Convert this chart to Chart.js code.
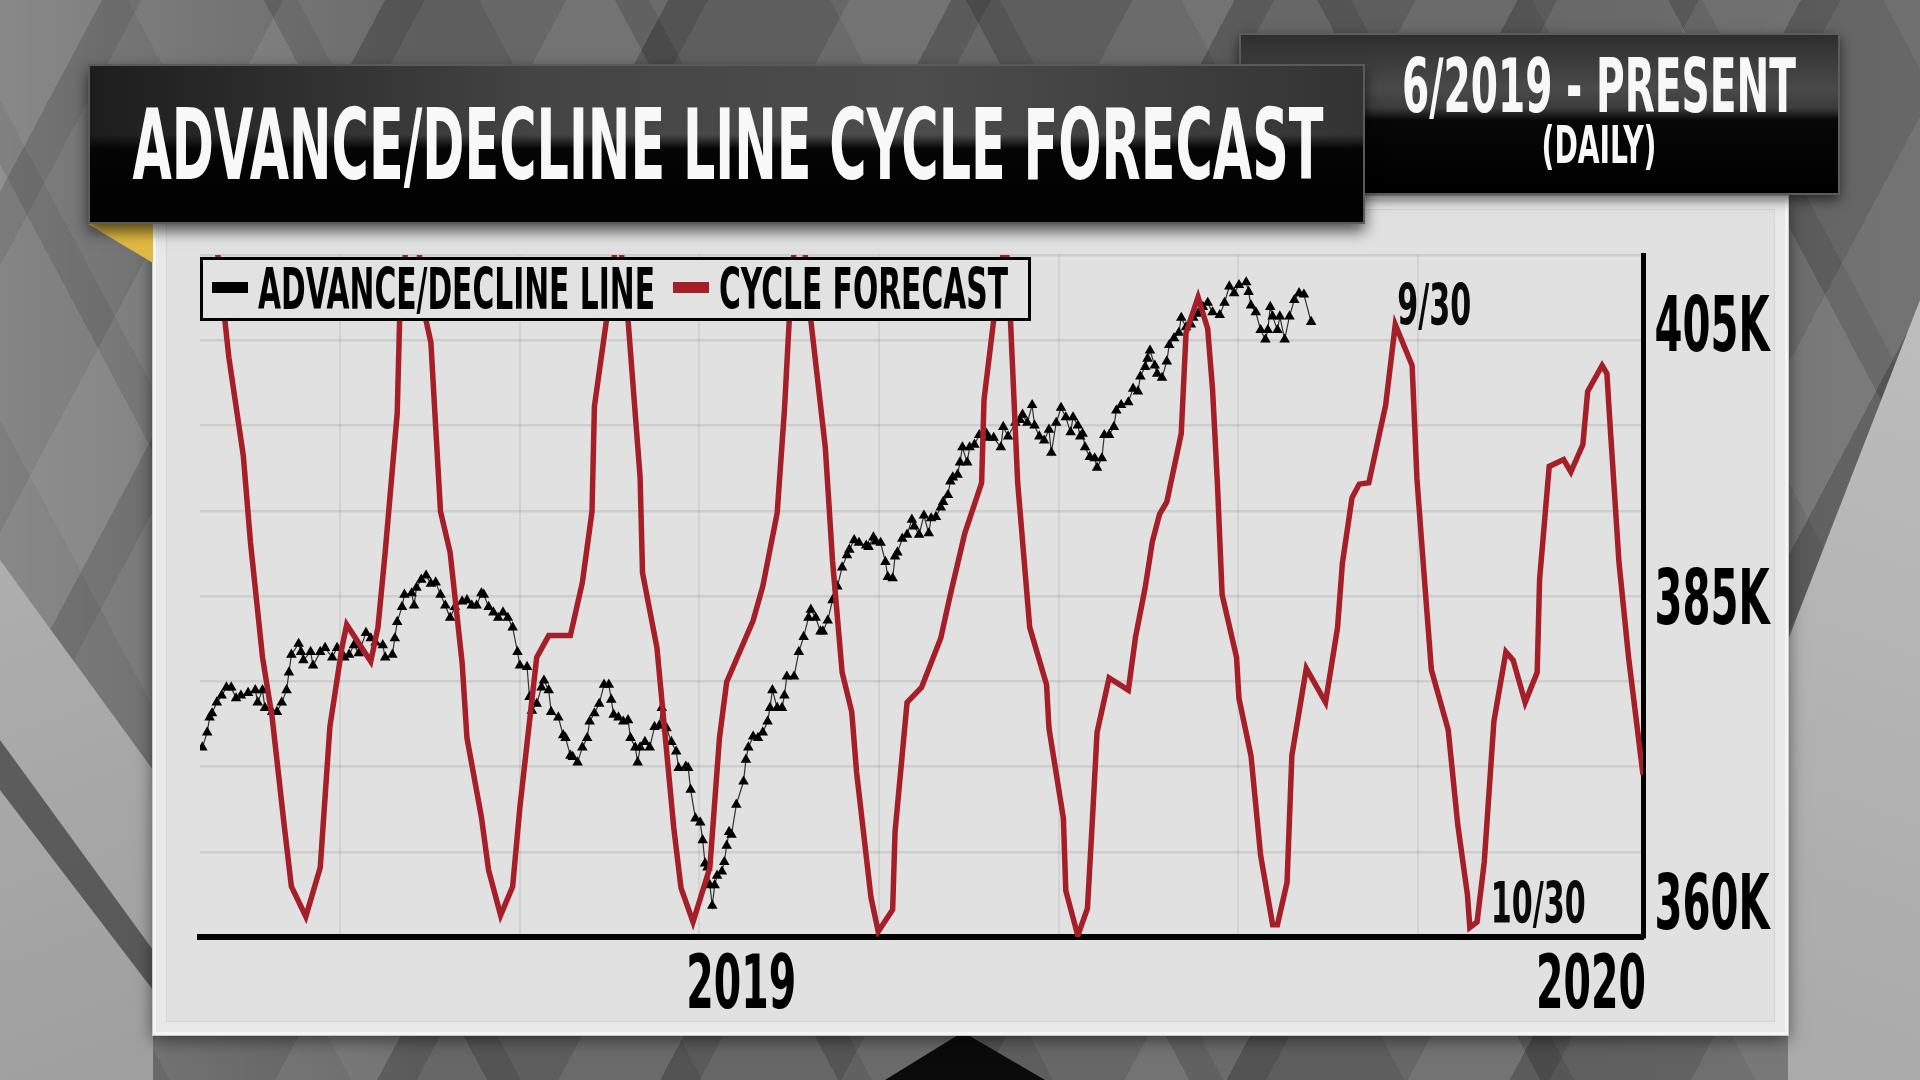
<!DOCTYPE html>
<html>
<head>
<meta charset="utf-8">
<title>Advance/Decline Line Cycle Forecast</title>
<script src="https://cdn.jsdelivr.net/npm/chart.js@4.4.1/dist/chart.umd.min.js"></script>
<style>
  html, body { margin:0; padding:0; }
  body { width:1920px; height:1080px; overflow:hidden; position:relative; background:#606060;
         font-family:'Liberation Sans Narrow','DejaVu Sans Condensed','DejaVu Sans',sans-serif; }
  .abs { position:absolute; }
  #bg { left:0; top:0; width:1920px; height:1080px;
    background:
      linear-gradient(90deg, rgba(255,255,255,0.20) 0%, rgba(255,255,255,0) 22%, rgba(0,0,0,0) 78%, rgba(255,255,255,0.06) 100%),
      repeating-linear-gradient(118deg, rgba(255,255,255,0.08) 0 90px, rgba(0,0,0,0.12) 90px 125px, rgba(255,255,255,0) 125px 250px),
      repeating-linear-gradient(62deg, rgba(255,255,255,0.06) 0 120px, rgba(0,0,0,0.10) 120px 150px, rgba(255,255,255,0) 150px 310px),
      #5e5e5e; }
  .poly { position:absolute; left:0; top:0; width:1920px; height:1080px; }
  #bandL { background:linear-gradient(160deg,#bdbdbd,#8e8e8e); clip-path:polygon(0 560px,153px 770px,153px 1080px,0 1080px); }
  #bandL2 { background:rgba(30,30,30,0.55); clip-path:polygon(0 740px,153px 950px,153px 990px,0 790px); }
  #bandR { background:linear-gradient(200deg,#c4c4c4,#9a9a9a); clip-path:polygon(1920px 300px,1920px 1080px,1788px 1080px,1788px 640px); }
  #bandB { background:#0b0b0b; clip-path:polygon(885px 1080px,958px 1035px,968px 1035px,1045px 1080px); }
  #panel { left:153px; top:196px; width:1635px; height:839px; box-sizing:border-box; background:#e1e1e1;
    border:3px solid #f4f4f4;
    box-shadow:0 0 0 1px #c9c9c9, inset 0 0 0 10px #e8e8e8, inset 0 0 0 11px #d6d6d6, 0 4px 16px rgba(0,0,0,0.55); }
  #chartWrap { left:153px; top:196px; width:1635px; height:839px; }
  #legend { left:200px; top:257px; width:831px; height:64px; box-sizing:border-box;
    border:3px solid #000; background:#e2e2e2; }
  #legend .sw { position:absolute; top:22px; width:36px; height:11px; }
  #legend .lt { position:absolute; top:1px; font-size:57.6px; line-height:57.6px; font-weight:bold; color:#000;
    white-space:nowrap; transform-origin:0 0; }
  #redFold { left:0; top:0; width:1920px; height:1080px;
    background:linear-gradient(100deg,#8f0d12,#d21f25);
    clip-path:polygon(1239px 33px,1365px 62px,1239px 62px); }
  #yellowFold { left:0; top:0; width:1920px; height:1080px;
    background:linear-gradient(200deg,#f6d35a,#caa02a);
    clip-path:polygon(88px 224px,153px 224px,153px 263px); }
  #rightBanner { left:1239px; top:33px; width:601px; height:162px; box-sizing:border-box;
    background:linear-gradient(180deg,#2e2e2e 0%,#4a4a4a 34%,#3c3c3c 46%,#070707 54%,#000 100%);
    border:2px solid #5c5c5c; box-shadow:0 5px 12px rgba(0,0,0,0.6); }
  #titleBanner { left:88px; top:64px; width:1277px; height:160px; box-sizing:border-box;
    background:
      linear-gradient(180deg,rgba(0,0,0,0) 0%,rgba(0,0,0,0) 44%,#050505 53%,#000 100%),
      linear-gradient(90deg,#1d1d1d 0%,#444 35%,#4d4d4d 65%,#333 100%);
    border:2px solid #5a5a5a; box-shadow:0 7px 14px rgba(0,0,0,0.65); }
  .bt { position:absolute; white-space:nowrap; color:#f8f8f8; font-weight:bold; }
  #titleText { left:638px; top:31px; font-size:97.4px; line-height:97.4px; }
  #subText1 { left:358px; top:14px; font-size:75.4px; line-height:75.4px; }
  #subText2 { left:358px; top:84px; font-size:52px; line-height:52px; }
</style>
</head>
<body>
<div id="bg" class="abs"></div>
<div id="bandL" class="poly"></div>
<div id="bandL2" class="poly"></div>
<div id="bandR" class="poly"></div>
<div id="bandB" class="poly"></div>
<div id="panel" class="abs"></div>
<div id="chartWrap" class="abs"><canvas id="chart" width="1635" height="839"></canvas></div>
<div id="legend" class="abs"></div>
<div id="redFold" class="poly"></div>
<div id="rightBanner" class="abs">
  <span id="subText1" class="bt">6/2019 - PRESENT</span>
  <span id="subText2" class="bt">(DAILY)</span>
</div>
<div id="yellowFold" class="poly"></div>
<div id="titleBanner" class="abs">
  <span id="titleText" class="bt">ADVANCE/DECLINE LINE CYCLE FORECAST</span>
</div>

<script>
// ===== DATA (x = calendar days counted from 1 Jan 2019; values in thousands) =====
const seriesLabels = ['ADVANCE/DECLINE LINE', 'CYCLE FORECAST'];

const adDays = [-224,-222,-221,-220,-218,-216,-214,-212,-210,-208,-205,-202,-201,-199,-198,-195,-193,-191,-189,-188,
  -187,-184,-183,-182,-179,-178,-175,-173,-170,-168,-165,-163,-161,-159,-156,-154,-152,-149,-148,-145,
  -144,-143,-141,-140,-137,-136,-135,-133,-131,-129,-127,-125,-123,-121,-119,-116,-114,-112,-110,-108,
  -107,-105,-103,-101,-99,-97,-95,-93,-92,-89,-88,-87,-85,-83,-82,-80,-79,-76,-74,-73,
  -71,-70,-68,-66,-64,-63,-61,-59,-57,-55,-54,-53,-51,-49,-47,-46,-44,-43,-42,-40,
  -38,-36,-34,-33,-31,-29,-27,-26,-23,-22,-21,-19,-17,-16,-15,-14,-13,-12,-11,-10,
  -8,-7,-6,-5,-4,-2,1,2,3,5,7,9,11,12,13,15,17,18,19,22,
  24,26,28,29,31,33,34,36,38,40,42,44,45,47,49,52,53,55,56,58,
  60,61,63,64,65,67,69,71,72,74,76,78,79,81,83,84,86,87,88,90,
  91,92,94,95,97,99,102,103,105,108,109,111,114,116,117,119,121,122,124,126,
  128,129,131,133,135,137,138,140,141,142,143,145,147,148,150,151,153,155,156,158,
  161,163,165,166,168,169,170,172,173,175,177,178,180,182,183,185,187,188,190,192,
  194,196,199,201,203,205,207,210,211,212,214,216,218,219,220,221,223,224,226,228,
  230,232,234,237];
const adValues = [373.9,375.0,376.1,376.4,377.2,377.7,378.3,378.3,377.5,377.7,377.9,378.1,377.2,378.1,376.8,376.5,376.5,377.2,378.1,379.4,
  380.7,381.5,380.9,380.3,380.9,379.9,380.9,381.2,380.5,381.2,380.5,380.7,381.4,380.8,382.3,381.9,381.6,381.4,380.5,380.7,
  381.9,383.1,384.2,385.1,385.2,384.3,385.6,386.2,386.5,385.9,386.0,385.1,384.3,383.4,384.2,384.6,384.7,384.3,384.3,385.2,
  385.1,384.2,383.8,383.4,383.8,383.4,382.7,380.9,379.9,379.8,377.6,376.6,377.1,378.3,378.8,378.1,376.5,376.1,374.8,374.6,
  373.3,373.2,372.8,373.9,374.6,375.8,376.4,377.1,378.5,378.5,377.4,376.3,376.1,375.8,375.9,374.6,373.9,372.8,373.9,374.3,
  373.9,375.4,375.5,376.8,375.3,374.3,373.6,372.4,372.5,372.4,370.8,368.7,368.4,367.1,365.4,365.1,363.8,362.3,363.8,364.5,
  364.8,365.5,366.7,367.7,367.5,369.7,371.4,373.0,373.9,374.7,374.6,375.0,375.8,376.8,378.1,376.8,376.8,377.7,379.1,379.1,
  380.9,382.0,383.4,384.0,383.4,382.4,382.4,383.2,384.7,385.7,387.1,388.0,388.4,389.1,388.9,388.7,388.6,389.3,389.0,388.9,
  387.5,386.4,386.3,387.9,388.2,389.2,389.5,390.6,390.1,389.5,390.9,389.6,390.7,390.8,391.5,391.9,392.4,393.4,393.7,393.9,
  394.8,395.9,394.8,395.9,396.1,396.8,396.9,396.6,396.6,395.9,397.4,396.7,397.7,397.9,398.3,397.7,399.0,397.5,396.7,396.4,
  397.2,395.5,397.7,398.8,398.1,397.0,398.1,397.5,396.7,396.9,395.9,395.2,395.1,394.4,395.1,396.8,396.8,397.4,398.6,399.0,
  399.2,400.2,400.0,401.1,401.8,402.4,403.0,401.9,401.3,401.0,402.2,403.4,403.9,404.3,405.4,404.7,404.9,405.4,405.7,406.2,
  406.5,405.8,405.6,406.5,407.7,407.2,407.8,408.0,407.3,406.3,405.8,404.5,403.8,404.5,406.2,405.5,404.5,405.5,403.8,405.5,
  406.7,407.2,407.1,405.1];

const forecastDays = [-220,-213,-207,-204,-199,-195,-190,-187,-181,-175,-171,-166,-164,-154,-151,-148,-143,-142,-137,-131,
  -129,-125,-121,-116,-114,-108,-105,-100,-95,-92,-85,-80,-71,-66,-62,-61,-56,-51,-47,-42,
  -41,-35,-28,-25,-20,-13,-9,-6,5,9,15,18,20,24,29,35,38,42,46,48,
  54,57,63,64,69,75,83,87,93,100,101,105,110,112,115,120,127,128,134,135,
  140,144,146,148,153,161,164,168,171,174,177,183,185,190,194,196,198,200,206,207,
  212,216,221,223,227,229,235,243,248,250,254,257,261,268,272,279,281,284,287,294,
  298,302,303,306,309,313,318,321,326,331,332,336,342,345,350,352,358,360,361,365,
  369,375];
const forecastValues = [414.0,402.5,395.3,388.9,380.5,376.1,368.2,363.7,361.5,365.1,375.4,381.2,382.9,380.2,382.7,388.2,398.4,405.2,415.5,405.2,
  403.6,391.2,388.2,380.1,374.6,368.8,364.9,361.6,363.7,369.5,380.5,382.1,382.1,386.0,391.2,398.9,405.2,412.4,405.2,393.7,
  386.7,381.2,368.0,363.6,361.1,365.1,374.6,378.7,383.2,385.7,391.1,398.6,405.2,415.5,405.2,395.9,387.6,379.4,376.5,372.1,
  362.9,360.4,362.0,367.7,377.2,378.3,381.9,385.1,389.6,393.3,399.4,405.2,411.5,405.2,393.3,382.7,378.5,375.3,368.7,363.4,
  360.1,362.1,368.4,375.0,379.0,378.1,382.0,385.6,389.0,391.0,391.9,396.9,404.3,406.9,404.6,400.2,393.4,385.1,380.5,377.5,
  373.3,366.0,360.9,360.9,364.0,373.3,379.7,377.2,382.7,387.4,392.2,393.2,393.3,399.0,404.9,401.9,393.6,386.5,379.6,375.2,
  368.2,363.1,360.7,361.1,365.5,375.8,380.9,380.3,377.2,379.4,386.2,394.5,395.0,394.1,396.1,400.0,401.9,401.3,398.4,387.5,
  380.5,371.9];

const yTickValues = [360, 385, 405];
const yTickLabels = ['360K', '385K', '405K'];
const xTickDays = [0, 365];
const xTickLabels = ['2019', '2020'];
const calloutDays = [272, 303];
const calloutLabels = ['9/30', '10/30'];

// ===== helpers =====
const CANVAS_FONT = "'Liberation Sans Narrow','DejaVu Sans Condensed','DejaVu Sans',sans-serif";
function setCondensedFont(ctx, cap, weight) {
  ctx.font = weight + ' ' + (cap / 0.729).toFixed(2) + 'px ' + CANVAS_FONT;
  return (0.5 * cap) / ctx.measureText('0').width;   // horizontal squeeze factor
}
function drawCondensed(ctx, text, left, baseline, sx) {
  ctx.save();
  ctx.translate(left, baseline);
  ctx.scale(sx, 1);
  ctx.textAlign = 'left';
  ctx.textBaseline = 'alphabetic';
  ctx.fillText(text, 0, 0);
  ctx.restore();
}

const labelPlugin = {
  id: 'tvLabels',
  afterDraw(chart) {
    const { ctx, chartArea: a } = chart;
    const xs = chart.scales.x, ys = chart.scales.y;
    ctx.save();
    ctx.fillStyle = '#000';
    // value axis labels (right side)
    yTickValues.forEach((v, i) => {
      const cap = 56;
      const sx = setCondensedFont(ctx, cap, 'bold');
      const w = ctx.measureText(yTickLabels[i]).width * sx;
      let base = ys.getPixelForValue(v) + cap / 2;
      base = Math.min(base, a.bottom - 8);
      drawCondensed(ctx, yTickLabels[i], a.right + 69 - w / 2, base, sx);
    });
    // year labels
    xTickDays.forEach((d, i) => {
      const cap = 55;
      const sx = setCondensedFont(ctx, cap, 'bold');
      const w = ctx.measureText(xTickLabels[i]).width * sx;
      let left = xs.getPixelForValue(d) - w / 2;
      left = Math.min(left, a.right + 3 - w);
      drawCondensed(ctx, xTickLabels[i], left, a.bottom + 71, sx);
    });
    // callouts on forecast turning points
    calloutDays.forEach((d, i) => {
      const k = forecastDays.indexOf(d);
      if (k < 0) return;
      const v = forecastValues[k];
      const px = xs.getPixelForValue(d), py = ys.getPixelForValue(v);
      const isPeak = v >= forecastValues[k - 1] && v >= forecastValues[k + 1];
      const sx = setCondensedFont(ctx, 42, 'bold');
      ctx.fillStyle = '#0a0a0a';
      if (isPeak) drawCondensed(ctx, calloutLabels[i], px + 2, py, sx);
      else drawCondensed(ctx, calloutLabels[i], px + 21, py - 4, sx);
    });
    ctx.restore();
  }
};

// ===== chart =====
const adPoints = adDays.map((d, i) => ({ x: d, y: adValues[i] }));
const fcPoints = forecastDays.map((d, i) => ({ x: d, y: forecastValues[i] }));

const chart = new Chart(document.getElementById('chart').getContext('2d'), {
  type: 'line',
  data: {
    datasets: [
      { label: seriesLabels[0], data: adPoints, borderColor: 'rgba(30,30,30,0.9)', borderWidth: 1.2,
        pointStyle: 'triangle', pointRadius: 4.6, pointBackgroundColor: '#000', pointBorderColor: '#000',
        pointBorderWidth: 1.5, tension: 0, order: 2 },
      { label: seriesLabels[1], data: fcPoints, borderColor: '#a41f28', borderWidth: 5.5,
        pointRadius: 0, tension: 0, order: 1 }
    ]
  },
  options: {
    responsive: false, animation: false, devicePixelRatio: 1,
    layout: { padding: { left: 47, top: 59, right: 0, bottom: 0 } },
    plugins: { legend: { display: false }, tooltip: { enabled: false } },
    scales: {
      x: { type: 'linear', min: -225, max: 375, position: 'bottom',
           grid: { display: false, drawTicks: false },
           border: { display: true, color: '#000', width: 6 },
           ticks: { display: false },
           afterFit(s) { s.height = 98; } },
      xg: { type: 'linear', position: 'top', min: -0.779, max: 7.251,
            grid: { color: 'rgba(0,0,0,0.065)', lineWidth: 2, drawTicks: false },
            border: { display: false },
            ticks: { display: false, stepSize: 1 },
            afterBuildTicks(s) { s.ticks = s.ticks.filter(t => Number.isInteger(t.value)); },
            afterFit(s) { s.height = 0; } },
      y: { type: 'linear', position: 'right', min: 360, max: 410,
           grid: { color: 'rgba(0,0,0,0.085)', lineWidth: 2.5, drawTicks: false },
           border: { display: true, color: '#000', width: 5 },
           ticks: { display: false, stepSize: 6.25 },
           afterFit(s) { s.width = 145; } }
    }
  },
  plugins: [labelPlugin]
});

// ===== HTML legend built from the datasets =====
(function buildLegend() {
  const box = document.getElementById('legend');
  let x = 9, sx = null;
  chart.data.datasets.forEach((ds, i) => {
    const sw = document.createElement('span');
    sw.className = 'sw';
    sw.style.left = x + 'px';
    sw.style.background = ds.pointBackgroundColor || ds.borderColor;
    box.appendChild(sw);
    x += 36 + 10;
    const t = document.createElement('span');
    t.className = 'lt';
    t.textContent = ds.label;
    t.style.left = x + 'px';
    box.appendChild(t);
    const w = t.getBoundingClientRect().width;
    if (sx === null) sx = 397 / w;
    t.style.transform = 'scaleX(' + sx + ')';
    x += w * sx + 18;
  });
})();

// ===== squeeze banner texts to condensed widths =====
function fitText(id, target) {
  const el = document.getElementById(id);
  const w = el.getBoundingClientRect().width;
  el.style.transform = 'translateX(-50%) scaleX(' + (target / w) + ')';
}
fitText('titleText', 1191);
fitText('subText1', 394);
fitText('subText2', 115);
</script>
</body>
</html>
